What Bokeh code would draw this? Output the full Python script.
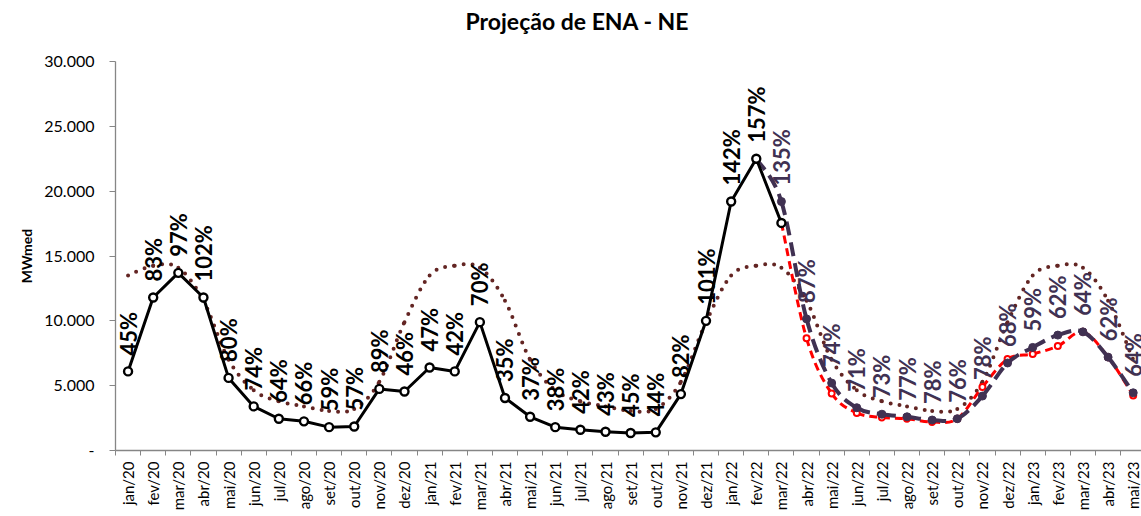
import math
from bokeh.plotting import figure
from bokeh.models import FixedTicker, Range1d, Title, ColumnDataSource
from bokeh.core.properties import value
from bokeh.embed import file_html
from bokeh.resources import INLINE

# ---------------- data ----------------
months = ["jan/20", "fev/20", "mar/20", "abr/20", "mai/20", "jun/20", "jul/20", "ago/20",
          "set/20", "out/20", "nov/20", "dez/20", "jan/21", "fev/21", "mar/21", "abr/21",
          "mai/21", "jun/21", "jul/21", "ago/21", "set/21", "out/21", "nov/21", "dez/21",
          "jan/22", "fev/22", "mar/22", "abr/22", "mai/22", "jun/22", "jul/22", "ago/22",
          "set/22", "out/22", "nov/22", "dez/22", "jan/23", "fev/23", "mar/23", "abr/23",
          "mai/23"]

# verified ENA (jan/20 .. mar/22)
ena_hist = [6100, 11800, 13700, 11800, 5600, 3400, 2450, 2250, 1800, 1850, 4750, 4550,
            6400, 6100, 9900, 4050, 2600, 1800, 1600, 1450, 1350, 1400, 4350, 10000,
            19200, 22500, 17550]
# % MLT labels of verified ENA (jan/20 .. fev/22)
pct_hist = [45, 83, 97, 102, 80, 74, 64, 66, 59, 57, 89, 46, 47, 42, 70, 35, 37, 38, 42,
            43, 45, 44, 82, 101, 142, 157]

# projection (purple) fev/22 .. mai/23
ena_proj = [22500, 19200, 10150, 5200, 3300, 2800, 2600, 2350, 2450, 4200, 6750, 7950,
            8900, 9150, 7200, 4450]
# % MLT labels of projection (mar/22 .. mai/23)
pct_proj = [135, 87, 74, 71, 73, 77, 78, 76, 78, 68, 59, 62, 64, 62, 64]

# alternative projection (red) mar/22 .. mai/23
ena_alt = [17550, 8650, 4400, 2900, 2550, 2450, 2200, 2450, 4900, 7050, 7450, 8050,
           9150, 7200, 4250]

# MLT (long-term average), jan/20 .. mai/23
mlt = [13500, 14250, 14100, 11550, 7000, 4650, 3800, 3400, 3050, 3200, 5300, 9900,
       13500, 14250, 14100, 11550, 7000, 4650, 3800, 3400, 3050, 3200, 5300, 9900,
       13500, 14250, 14100, 11550, 7000, 4650, 3800, 3400, 3050, 3200, 5300, 9900,
       13500, 14250, 14100, 11550, 7000]

y_ticks = [0, 5000, 10000, 15000, 20000, 25000, 30000]
y_tick_labels = ["-", "5.000", "10.000", "15.000", "20.000", "25.000", "30.000"]
title_text = "Projeção de ENA - NE"

FONT = "Lato"
C_BLACK = "#000000"
C_PURPLE = "#403152"
C_RED = "#FF0000"
C_MLT = "#632523"
C_AXIS = "#868686"

idx = list(range(len(months)))
i_hist = idx[:len(ena_hist)]
i_proj = idx[25:25 + len(ena_proj)]
i_alt = idx[26:26 + len(ena_alt)]


def smooth(xs, ys):
    """Bezier control points for an Excel-like smoothed line."""
    n = len(xs)
    d = dict(x0=[], y0=[], x1=[], y1=[], cx0=[], cy0=[], cx1=[], cy1=[])
    for i in range(n - 1):
        a = i - 1 if i > 0 else i
        b = i + 2 if i + 2 < n else i + 1
        d["x0"].append(xs[i]); d["y0"].append(ys[i])
        d["x1"].append(xs[i + 1]); d["y1"].append(ys[i + 1])
        d["cx0"].append(xs[i] + (xs[i + 1] - xs[a]) / 6.0)
        d["cy0"].append(ys[i] + (ys[i + 1] - ys[a]) / 6.0)
        d["cx1"].append(xs[i + 1] - (xs[b] - xs[i]) / 6.0)
        d["cy1"].append(ys[i + 1] - (ys[b] - ys[i]) / 6.0)
    return ColumnDataSource(d)


p = figure(width=1141, height=516, output_backend="svg", toolbar_location=None,
           x_range=Range1d(-0.5, 40.33), y_range=Range1d(0, 30000),
           min_border_left=115, min_border_right=0, min_border_top=61,
           min_border_bottom=66)
p.outline_line_color = None
p.xgrid.visible = False
p.ygrid.visible = False
p.background_fill_color = "white"
p.border_fill_color = "white"

# spacer between frame and title, then the title itself
p.add_layout(Title(text=" ", text_font_size="1px", standoff=24), "above")
p.add_layout(Title(text=title_text, align="left", offset=350, standoff=0,
                   text_font=FONT, text_font_size="23px", text_font_style="bold",
                   text_color="#000000"), "above")

# MLT dotted smooth
p.bezier(x0="x0", y0="y0", x1="x1", y1="y1", cx0="cx0", cy0="cy0", cx1="cx1", cy1="cy1",
         source=smooth(idx, mlt), line_color=C_MLT, line_width=4,
         line_dash="0 9", line_cap="round")

# red alternative projection
p.bezier(x0="x0", y0="y0", x1="x1", y1="y1", cx0="cx0", cy0="cy0", cx1="cx1", cy1="cy1",
         source=smooth(i_alt, ena_alt), line_color=C_RED, line_width=3,
         line_dash="8 5")
p.scatter(i_alt, ena_alt, size=6, marker="circle", fill_color="white",
          line_color=C_RED, line_width=2)

# purple projection
p.bezier(x0="x0", y0="y0", x1="x1", y1="y1", cx0="cx0", cy0="cy0", cx1="cx1", cy1="cy1",
         source=smooth(i_proj, ena_proj), line_color=C_PURPLE, line_width=4,
         line_dash="14 7")
p.scatter(i_proj, ena_proj, size=8, marker="circle", fill_color=C_PURPLE,
          line_color=C_PURPLE, line_width=1)

# verified ENA
p.line(i_hist, ena_hist, line_color=C_BLACK, line_width=3, line_join="round")
p.scatter(i_hist, ena_hist, size=8, marker="circle", fill_color="white",
          line_color=C_BLACK, line_width=2.4)

# labels
p.text(x=i_hist[:len(pct_hist)], y=ena_hist[:len(pct_hist)],
       text=[f"{v}%" for v in pct_hist], angle=math.pi / 2, y_offset=-16,
       text_align="left", text_baseline="middle", text_font=value(FONT),
       text_font_size="22px", text_font_style="bold", text_color=C_BLACK)
p.text(x=i_proj[1:], y=ena_proj[1:], text=[f"{v}%" for v in pct_proj],
       angle=math.pi / 2, y_offset=-16, text_align="left", text_baseline="middle",
       text_font=value(FONT), text_font_size="22px", text_font_style="bold",
       text_color=C_PURPLE)

# x axis
xa = p.xaxis[0]
xa.ticker = FixedTicker(ticks=idx, minor_ticks=[i - 0.5 for i in range(len(months) + 1)])
xa.major_label_overrides = {i: m for i, m in enumerate(months)}
xa.major_label_orientation = math.pi / 2
xa.major_tick_out = 0
xa.major_tick_in = 0
xa.minor_tick_out = 5
xa.minor_tick_in = 0
xa.minor_tick_line_color = C_AXIS
xa.axis_line_color = C_AXIS
xa.axis_line_width = 1.3
xa.major_label_standoff = 6
xa.major_label_text_font = FONT
xa.major_label_text_font_size = "15px"
xa.major_label_text_color = "#000000"

# y axis
ya = p.yaxis[0]
ya.ticker = FixedTicker(ticks=y_ticks)
ya.major_label_overrides = {v: s for v, s in zip(y_ticks, y_tick_labels)}
ya.major_tick_out = 6
ya.major_tick_in = 0
ya.minor_tick_out = 0
ya.minor_tick_in = 0
ya.major_tick_line_color = C_AXIS
ya.axis_line_color = C_AXIS
ya.axis_line_width = 1.3
ya.major_label_standoff = 15
ya.major_label_text_font = FONT
ya.major_label_text_font_size = "16px"
ya.major_label_text_color = "#000000"
ya.axis_label = "MWmed"
ya.axis_label_text_font = FONT
ya.axis_label_text_font_size = "14px"
ya.axis_label_text_font_style = "bold"
ya.axis_label_text_color = "#000000"
ya.axis_label_standoff = 6

open("out.html", "w").write(file_html(p, INLINE))
